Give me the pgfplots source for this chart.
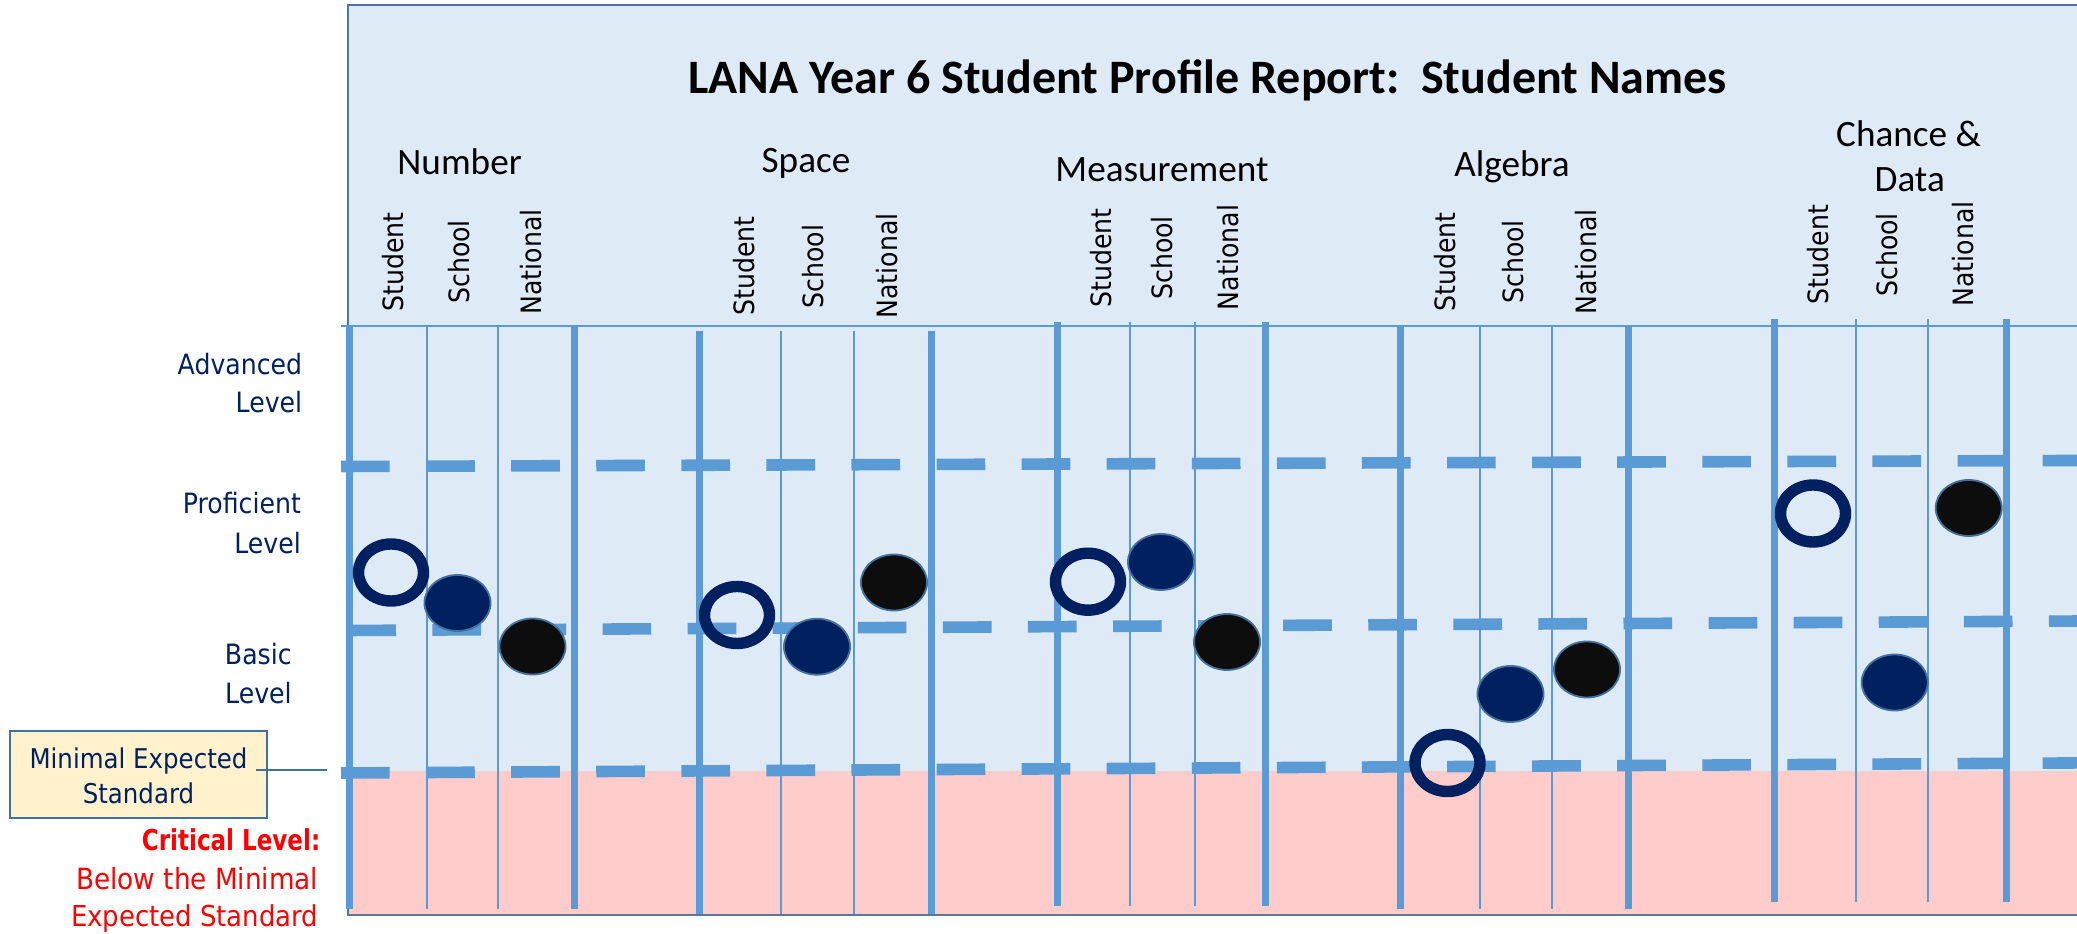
\documentclass[border=0pt]{standalone}
\usepackage{fontspec}
\setmainfont{Carlito}
\newfontfamily\tah[FakeStretch=0.9, BoldFeatures={FakeStretch=0.8}]{DejaVu Sans}
\usepackage{pgfplots}
\pgfplotsset{compat=1.18}
\definecolor{bgblue}{RGB}{222,234,246}
\definecolor{critpink}{RGB}{255,204,204}
\definecolor{gridblue}{RGB}{91,155,213}
\definecolor{navy}{RGB}{0,32,96}
\definecolor{framec}{RGB}{74,116,170}
\definecolor{outl}{RGB}{65,113,156}
\definecolor{boxfill}{RGB}{255,242,204}
\definecolor{blk}{RGB}{13,13,13}
\definecolor{critred}{RGB}{255,0,0}
\begin{document}
\begin{tikzpicture}
\begin{axis}[
  scale only axis, width=519.25pt, height=233.25pt,
  xmin=0, xmax=2077, ymin=0, ymax=933,
  hide axis, clip=true,
]
% panel background and critical zone
\addplot[fill=bgblue, draw=none] coordinates {(347,17.7) (2100,17.7) (2100,928) (347,928)} -- cycle;
\addplot[fill=critpink, draw=none] coordinates {(347,17.7) (2100,17.7) (2100,162) (347,162)} -- cycle;
% panel border
\addplot[framec, line width=0.6pt] coordinates {(348,17.7) (348,928) (2100,928)};
\addplot[framec!70!gray, line width=0.5pt] coordinates {(347,17.7) (2100,17.7)};
\addplot[gridblue, line width=0.45pt] coordinates {(341,607.3) (2100,607.3)};
% Number group
\addplot[gridblue, line width=1.75pt] coordinates {(349,607) (349,24)};
\addplot[gridblue, line width=0.4pt] coordinates {(427,607) (427,24)};
\addplot[gridblue, line width=0.4pt] coordinates {(497.7,607) (497.7,24)};
\addplot[gridblue, line width=1.75pt] coordinates {(574,607) (574,24)};
% Space group
\addplot[gridblue, line width=1.75pt] coordinates {(699.7,602) (699.7,19)};
\addplot[gridblue, line width=0.4pt] coordinates {(781,602) (781,19)};
\addplot[gridblue, line width=0.4pt] coordinates {(853.7,602) (853.7,19)};
\addplot[gridblue, line width=1.75pt] coordinates {(931.7,602) (931.7,19)};
% Measurement group
\addplot[gridblue, line width=1.75pt] coordinates {(1057,611) (1057,27)};
\addplot[gridblue, line width=0.4pt] coordinates {(1129.7,611) (1129.7,27)};
\addplot[gridblue, line width=0.4pt] coordinates {(1195,611) (1195,27)};
\addplot[gridblue, line width=1.75pt] coordinates {(1265,611) (1265,27)};
% Algebra group
\addplot[gridblue, line width=1.75pt] coordinates {(1400.7,607) (1400.7,24)};
\addplot[gridblue, line width=0.4pt] coordinates {(1480,607) (1480,24)};
\addplot[gridblue, line width=0.4pt] coordinates {(1552,607) (1552,24)};
\addplot[gridblue, line width=1.75pt] coordinates {(1628.7,607) (1628.7,24)};
% Chance & Data group
\addplot[gridblue, line width=1.75pt] coordinates {(1774.3,614) (1774.3,31)};
\addplot[gridblue, line width=0.4pt] coordinates {(1855.7,614) (1855.7,31)};
\addplot[gridblue, line width=0.4pt] coordinates {(1928,614) (1928,31)};
\addplot[gridblue, line width=1.75pt] coordinates {(2006,614) (2006,31)};
% level boundaries
\addplot[gridblue, line width=2.9pt, dash pattern=on 12.17pt off 9.1pt] coordinates {(341,466.5) (2100,472.6)};
\addplot[gridblue, line width=2.9pt, dash pattern=on 12.17pt off 9.1pt] coordinates {(347.3,302.5) (2100,312.1)};
\addplot[gridblue, line width=2.9pt, dash pattern=on 12.17pt off 9.1pt] coordinates {(341,160) (2100,170.2)};
% markers: Student (open), School (navy), National (black)
\addplot[only marks, mark=o, mark size=7.125pt, color=navy,
  mark options={xscale=1.14, line width=2.85pt, draw=navy}]
  coordinates {(391,360.5) (737,318) (1088,351.3) (1447.5,170) (1813,419.5)};
\addplot[only marks, mark=*, mark size=7pt, color=outl,
  mark options={xscale=1.18, line width=0.45pt, draw=outl, fill=navy}]
  coordinates {(457.5,330) (817,286.3) (1161,371) (1510.5,239) (1894.7,250.5)};
\addplot[only marks, mark=*, mark size=7pt, color=outl,
  mark options={xscale=1.18, line width=0.45pt, draw=outl, fill=blk}]
  coordinates {(532.5,286.5) (894,350.5) (1227,291) (1587,263.5) (1968.7,425)};
% minimal expected standard callout
\addplot[fill=boxfill, draw=outl, line width=0.5pt] coordinates {(10,115) (267,115) (267,202) (10,202)} -- cycle;
\addplot[outl, line width=0.4pt] coordinates {(256,163) (327,163)};
% title and group labels
\node[anchor=base, inner sep=0, font=\fontsize{12}{14}\selectfont\bfseries] at (1207.5,839) {LANA Year 6 Student Profile Report:\ \ Student Names};
\node[anchor=base, inner sep=0, font=\fontsize{9.3}{11}\selectfont] at (459.6,758) {Number};
\node[anchor=base, inner sep=0, font=\fontsize{9.3}{11}\selectfont] at (806,760) {Space};
\node[anchor=base, inner sep=0, font=\fontsize{9.3}{11}\selectfont] at (1162,751.3) {Measurement};
\node[anchor=base, inner sep=0, font=\fontsize{9.3}{11}\selectfont] at (1512,756.3) {Algebra};
\node[anchor=base, inner sep=0, font=\fontsize{9.3}{11}\selectfont] at (1908.6,786.3) {Chance \&};
\node[anchor=base, inner sep=0, font=\fontsize{9.3}{11}\selectfont] at (1909.7,741.3) {Data};
% column labels
\tikzset{col/.style={rotate=90, anchor=center, inner sep=0, font=\tah\fontsize{7}{8}\selectfont}}
\node[col] at (393,671) {Student};
\node[col] at (459,671) {School};
\node[col] at (531.5,671) {National};
\node[col] at (744,667) {Student};
\node[col] at (813,666.3) {School};
\node[col] at (887,667) {National};
\node[col] at (1101,675) {Student};
\node[col] at (1162,675) {School};
\node[col] at (1228,675.5) {National};
\node[col] at (1445,671) {Student};
\node[col] at (1513.5,671) {School};
\node[col] at (1586,671) {National};
\node[col] at (1818,678.5) {Student};
\node[col] at (1887,678) {School};
\node[col] at (1962.6,679) {National};
% level labels
\tikzset{lev/.style={anchor=base east, inner sep=0, text=navy, font=\tah\fontsize{7}{8}\selectfont}}
\node[lev] at (303,558.3) {Advanced};
\node[lev] at (303,520) {Level};
\node[lev] at (301.7,419) {Proficient};
\node[lev] at (301.7,379.5) {Level};
\node[lev] at (292.5,268) {Basic};
\node[lev] at (292.5,229.3) {Level};
\node[anchor=base, inner sep=0, text=navy, font=\tah\fontsize{6.8}{8}\selectfont] at (138.5,164.7) {Minimal Expected};
\node[anchor=base, inner sep=0, text=navy, font=\tah\fontsize{6.8}{8}\selectfont] at (138.5,129.2) {Standard};
\node[anchor=base east, inner sep=0, text=critred, font=\tah\fontsize{7.2}{8}\selectfont\bfseries] at (321,82) {Critical Level:};
\node[anchor=base east, inner sep=0, text=critred, font=\tah\fontsize{7.3}{8}\selectfont] at (319,44) {Below the Minimal};
\node[anchor=base east, inner sep=0, text=critred, font=\tah\fontsize{7.2}{8}\selectfont] at (319,6.5) {Expected Standard};
\end{axis}
\pgfresetboundingbox
\path[use as bounding box] (current axis.south west) rectangle (current axis.north east);
\end{tikzpicture}
\end{document}
